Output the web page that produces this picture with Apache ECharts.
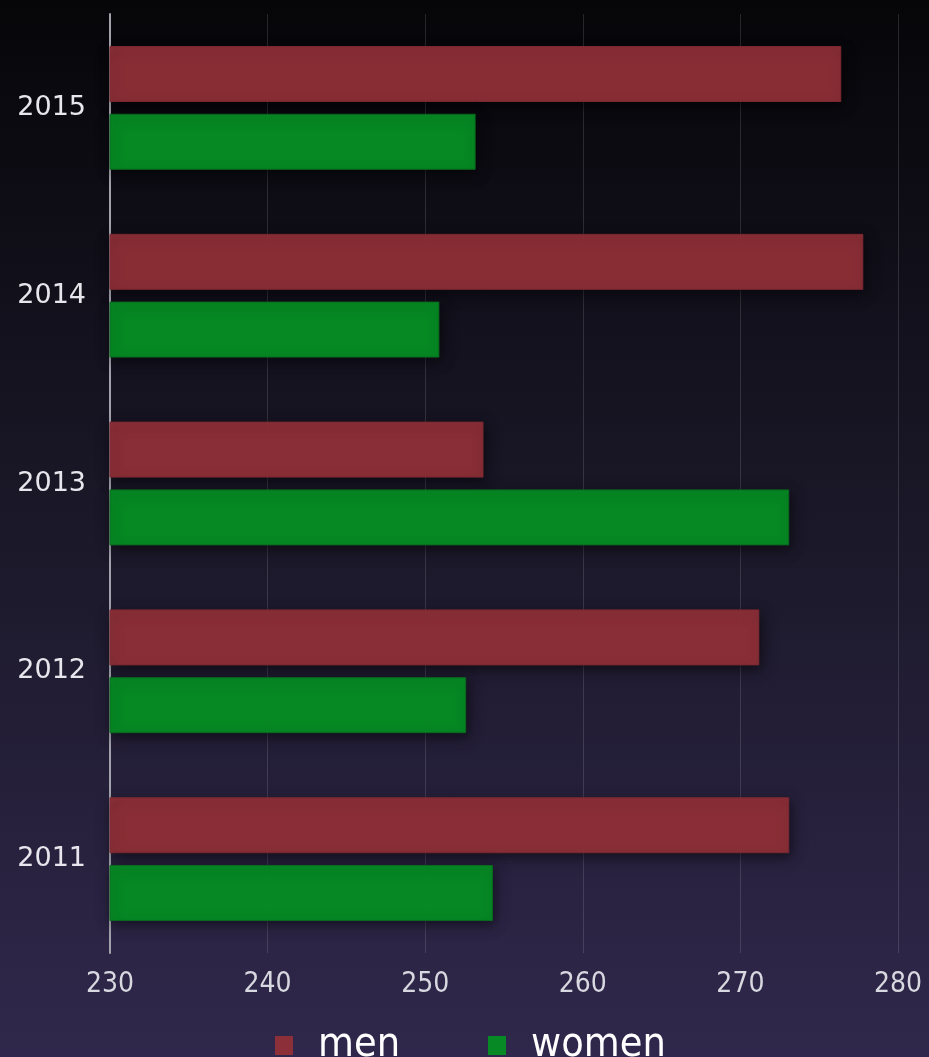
<!DOCTYPE html>
<html>
<head>
<meta charset="utf-8">
<script src="https://cdn.jsdelivr.net/npm/echarts@6/dist/echarts.min.js"></script>
<style>
  html, body { margin: 0; padding: 0; }
  #chart { width: 929px; height: 1057px; }
</style>
</head>
<body>
<div id="chart"></div>
<script>
// years, bottom to top
const years = ['2011', '2012', '2013', '2014', '2015']
const menValues = [273.1, 271.2, 253.7, 277.8, 276.4]
const womenValues = [254.3, 252.6, 273.1, 250.9, 253.2]
const xTicks = [230, 240, 250, 260, 270, 280]

const chart = echarts.init(document.getElementById('chart'))

const barShadow = {
  shadowColor: 'rgba(0,0,0,0.55)',
  shadowBlur: 12,
  shadowOffsetX: 2,
  shadowOffsetY: 4
}

chart.setOption({
  backgroundColor: new echarts.graphic.LinearGradient(0, 0, 0, 1, [
    { offset: 0, color: '#060609' },
    { offset: 0.5, color: '#1b1829' },
    { offset: 1, color: '#30284c' }
  ]),
  animation: false,
  grid: { left: 110, right: 31, top: 14, bottom: 104 },
  legend: {
    bottom: -14,
    left: 270,
    icon: 'rect',
    itemWidth: 18,
    itemHeight: 19,
    itemGap: 88,
    itemStyle: { borderWidth: 0, shadowBlur: 0, shadowOffsetX: 0, shadowOffsetY: 0 },
    textStyle: {
      color: '#ffffff',
      fontSize: 41,
      padding: [0, 0, 0, 20],
      fontFamily: 'Liberation Sans Narrow, DejaVu Sans Condensed, sans-serif'
    },
    data: ['men', 'women']
  },
  xAxis: {
    type: 'value',
    min: xTicks[0],
    max: xTicks[xTicks.length - 1],
    interval: 10,
    axisLine: { show: false },
    axisTick: { show: false },
    axisLabel: {
      color: '#d8d8e0',
      fontSize: 28,
      margin: 18,
      fontFamily: 'Liberation Sans Narrow, DejaVu Sans Condensed, sans-serif'
    },
    splitLine: { lineStyle: { color: 'rgba(255,255,255,0.13)', width: 1 } }
  },
  yAxis: {
    type: 'category',
    data: years,
    axisLine: { lineStyle: { color: '#a2a2ac', width: 2 } },
    axisTick: { show: false },
    axisLabel: {
      color: '#e6e6ec',
      fontSize: 27,
      margin: 24,
      fontFamily: 'DejaVu Sans, sans-serif'
    }
  },
  series: [
    {
      name: 'men',
      type: 'bar',
      data: menValues,
      barWidth: 56,
      barGap: '21%',
      itemStyle: Object.assign({
        color: 'rgba(146,48,56,0.94)',
        borderColor: '#7b2930',
        borderWidth: 1
      }, barShadow)
    },
    {
      name: 'women',
      type: 'bar',
      data: womenValues,
      barWidth: 56,
      itemStyle: Object.assign({
        color: 'rgba(6,140,36,0.97)',
        borderColor: '#0a6a1e',
        borderWidth: 1
      }, barShadow)
    }
  ]
})

window.addEventListener('resize', () => chart.resize())
</script>
</body>
</html>
